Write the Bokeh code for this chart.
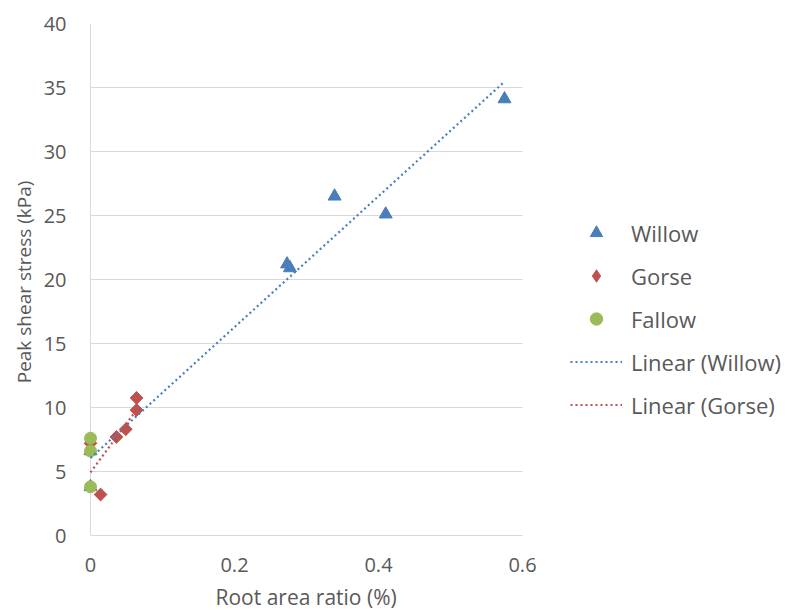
import numpy as np
from bokeh.plotting import figure
from bokeh.models import Range1d, FixedTicker, Legend, LegendItem, Title
from bokeh.embed import file_html
from bokeh.resources import INLINE

# ---- data ----
willow_x = [0.0, 0.0, 0.273, 0.277, 0.339, 0.410, 0.575]
willow_y = [3.8, 6.6, 21.2, 20.9, 26.5, 25.1, 34.1]
gorse_x = [0.0, 0.014, 0.036, 0.049, 0.064, 0.064]
gorse_y = [7.2, 3.2, 7.7, 8.3, 9.8, 10.75]
fallow_x = [0.0, 0.0, 0.0]
fallow_y = [7.6, 6.6, 3.8]
x_ticks = [0, 0.2, 0.4, 0.6]
x_tick_labels = ["0", "0.2", "0.4", "0.6"]
y_ticks = [0, 5, 10, 15, 20, 25, 30, 35, 40]
X_MIN, X_MAX = 0.0, 0.6

BLUE = "#4A7EBB"
RED = "#C0504D"
GREEN = "#9BBB59"
TXT = "#595959"
GRID = "#D9D9D9"
FONT = "Open Sans"

# frame spans the full width (so the legend is not clipped); the visible
# axis/grid is limited to 0..0.6 with bounds.
W, H = 785, 616
LEFT, TOP, BOTTOM = 76, 23, 80
PX_PER_UNIT = 720.0
x0_px = 90
x_start = -(x0_px - LEFT) / PX_PER_UNIT
x_end = (W - x0_px) / PX_PER_UNIT

p = figure(width=W, height=H, output_backend="svg", toolbar_location=None,
           x_range=Range1d(x_start, x_end), y_range=Range1d(0, 40),
           min_border_left=LEFT, min_border_right=0, min_border_top=TOP,
           min_border_bottom=BOTTOM)
p.outline_line_color = None
p.ygrid.grid_line_color = GRID
p.ygrid.cross_bounds = (X_MIN, X_MAX)
# vertical axis line at x = 0
p.xgrid.ticker = FixedTicker(ticks=[0])
p.xgrid.grid_line_color = GRID

p.xaxis.bounds = (X_MIN, X_MAX)
for ax in (p.xaxis[0], p.yaxis[0]):
    ax.axis_line_color = GRID
    ax.major_tick_line_color = None
    ax.minor_tick_line_color = None
    ax.major_label_text_font = FONT
    ax.major_label_text_font_size = "20px"
    ax.major_label_text_color = TXT
    ax.axis_label_text_font = FONT
    ax.axis_label_text_font_style = "normal"
    ax.axis_label_text_color = TXT
p.yaxis.axis_line_color = None
p.yaxis.axis_label_text_font_size = "19px"

p.xaxis.ticker = FixedTicker(ticks=x_ticks)
p.xaxis.major_label_overrides = {t: l for t, l in zip(x_ticks, x_tick_labels)}
p.yaxis.ticker = FixedTicker(ticks=y_ticks)
p.yaxis.axis_label = "Peak  shear stress (kPa)"
p.xaxis.major_label_standoff = 16
p.yaxis.major_label_standoff = 4
p.yaxis.axis_label_standoff = 4

# x-axis title centred under the 0..0.6 span
xt = Title(text="Root area ratio (%)", align="left", offset=139,
           text_font=FONT, text_font_size="21px", text_font_style="normal",
           text_color=TXT, standoff=12)
p.add_layout(xt, "below")

rw = p.scatter(willow_x, willow_y, marker="triangle", size=13, color=BLUE)
# legend glyph for gorse (hidden beneath the rotated squares in the plot)
rg_leg = p.scatter(gorse_x, gorse_y, marker="diamond", size=12, color=RED)
rg = p.scatter(gorse_x, gorse_y, marker="square", angle=np.pi / 4, size=9, color=RED)
rf = p.scatter(fallow_x, fallow_y, marker="circle", size=12, color=GREEN)

# linear trendlines computed from the data
mw, bw = np.polyfit(willow_x, willow_y, 1)
xw = [min(willow_x), max(willow_x)]
lw = p.line(xw, [mw * v + bw for v in xw], line_color=BLUE, line_width=2.2, line_dash="2 3")
mg, bg = np.polyfit(gorse_x, gorse_y, 1)
xg = [min(gorse_x), max(gorse_x)]
lg = p.line(xg, [mg * v + bg for v in xg], line_color=RED, line_width=2.2, line_dash="2 3")

legend = Legend(items=[
    LegendItem(label="Willow", renderers=[rw]),
    LegendItem(label="Gorse", renderers=[rg_leg]),
    LegendItem(label="Fallow", renderers=[rf]),
    LegendItem(label="Linear (Willow)", renderers=[lw]),
    LegendItem(label="Linear (Gorse)", renderers=[lg]),
], location=(570 - LEFT, 115))
legend.border_line_color = None
legend.background_fill_alpha = 0
legend.padding = 0
legend.margin = 0
legend.glyph_width = 52
legend.glyph_height = 31
legend.label_height = 31
legend.spacing = 12
legend.label_standoff = 9
legend.label_text_font = FONT
legend.label_text_font_size = "22px"
legend.label_text_color = TXT
p.add_layout(legend, "center")

open("out.html", "w").write(file_html(p, INLINE))
